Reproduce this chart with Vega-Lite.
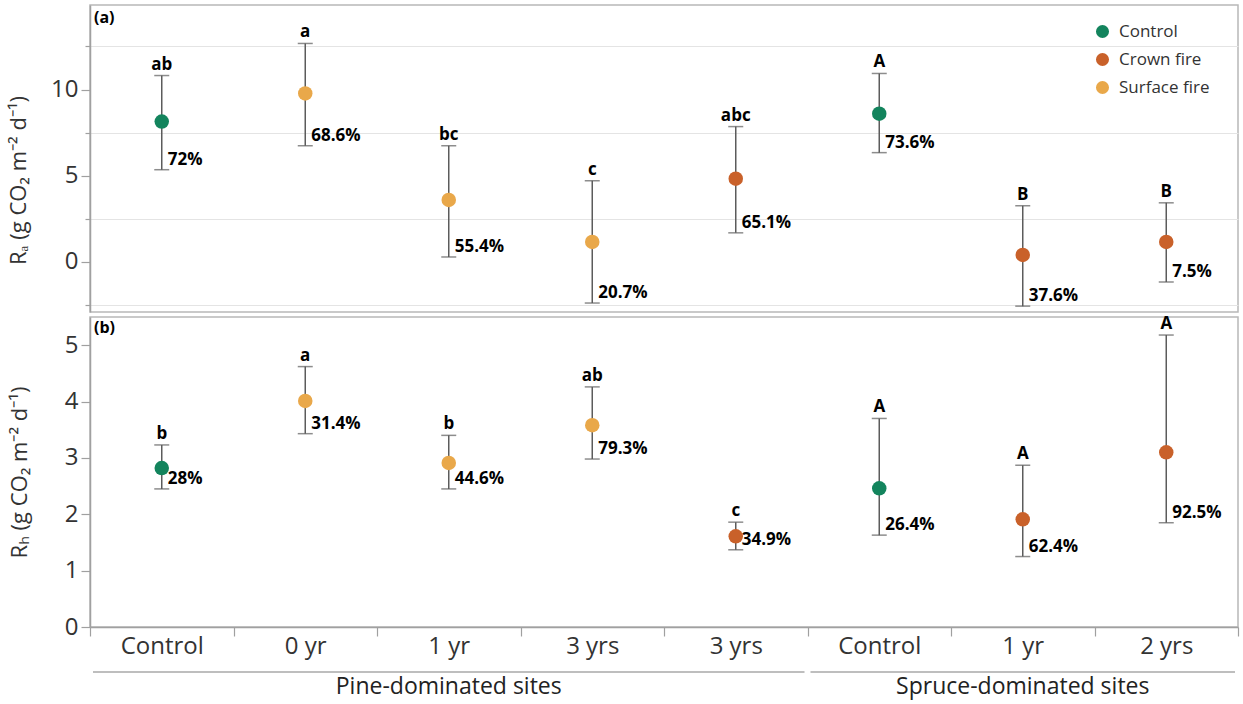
{
  "$schema": "https://vega.github.io/schema/vega-lite/v6.json",
  "padding": {"left": 6, "top": 4, "right": 2, "bottom": 6},
  "background": "white",
  "config": {
    "font": "Open Sans",
    "view": {"stroke": "#b8b8b8", "strokeWidth": 1.5},
    "axis": {"labelFont": "Open Sans", "titleFont": "Open Sans", "labelColor": "#333333", "titleColor": "#333333", "domainColor": "#a0a0a0", "tickColor": "#a0a0a0", "domainWidth": 1.5, "tickWidth": 1.2},
    "legend": {"labelFont": "Open Sans"}
  },
  "datasets": {
    "d": [
      {"cat": "Control|P", "treat": "Control", "ra": 8.14, "ra_lo": 5.35, "ra_hi": 10.81, "ra_letter": "ab", "ra_pct": "72%", "rh": 2.82, "rh_lo": 2.45, "rh_hi": 3.23, "rh_letter": "b", "rh_pct": "28%"},
      {"cat": "0 yr|P", "treat": "Surface fire", "ra": 9.77, "ra_lo": 6.74, "ra_hi": 12.67, "ra_letter": "a", "ra_pct": "68.6%", "rh": 4.01, "rh_lo": 3.43, "rh_hi": 4.62, "rh_letter": "a", "rh_pct": "31.4%"},
      {"cat": "1 yr|P", "treat": "Surface fire", "ra": 3.6, "ra_lo": 0.29, "ra_hi": 6.74, "ra_letter": "bc", "ra_pct": "55.4%", "rh": 2.91, "rh_lo": 2.45, "rh_hi": 3.4, "rh_letter": "b", "rh_pct": "44.6%"},
      {"cat": "3 yrs|P", "treat": "Surface fire", "ra": 1.16, "ra_lo": -2.38, "ra_hi": 4.71, "ra_letter": "c", "ra_pct": "20.7%", "rh": 3.58, "rh_lo": 2.98, "rh_hi": 4.26, "rh_letter": "ab", "rh_pct": "79.3%"},
      {"cat": "3 yrs|PC", "treat": "Crown fire", "ra": 4.83, "ra_lo": 1.69, "ra_hi": 7.85, "ra_letter": "abc", "ra_pct": "65.1%", "rh": 1.61, "rh_lo": 1.37, "rh_hi": 1.86, "rh_letter": "c", "rh_pct": "34.9%"},
      {"cat": "Control|S", "treat": "Control", "ra": 8.6, "ra_lo": 6.34, "ra_hi": 10.93, "ra_letter": "A", "ra_pct": "73.6%", "rh": 2.46, "rh_lo": 1.63, "rh_hi": 3.7, "rh_letter": "A", "rh_pct": "26.4%"},
      {"cat": "1 yr|S", "treat": "Crown fire", "ra": 0.41, "ra_lo": -2.56, "ra_hi": 3.26, "ra_letter": "B", "ra_pct": "37.6%", "rh": 1.91, "rh_lo": 1.25, "rh_hi": 2.87, "rh_letter": "A", "rh_pct": "62.4%"},
      {"cat": "2 yrs|S", "treat": "Crown fire", "ra": 1.16, "ra_lo": -1.16, "ra_hi": 3.43, "ra_letter": "B", "ra_pct": "7.5%", "rh": 3.1, "rh_lo": 1.85, "rh_hi": 5.18, "rh_letter": "A", "rh_pct": "92.5%"}
    ],
    "g": [
      {"group": "Pine-dominated sites", "from": 0, "to": 5},
      {"group": "Spruce-dominated sites", "from": 5, "to": 8}
    ]
  },
  "spacing": 1,
  "resolve": {"scale": {"color": "independent", "x": "independent", "y": "independent"}, "legend": {"color": "independent"}},
  "vconcat": [
    {
      "width": 1148,
      "height": 307,
      "title": {"text": "(a)", "anchor": "start", "frame": "group", "offset": -21, "dx": 4, "fontSize": 16, "fontWeight": "bold", "color": "#000000", "font": "Open Sans"},
      "data": {"name": "d"},
      "encoding": {
        "x": {"field": "cat", "type": "nominal", "scale": {"type": "band", "domain": ["Control|P", "0 yr|P", "1 yr|P", "3 yrs|P", "3 yrs|PC", "Control|S", "1 yr|S", "2 yrs|S"], "paddingInner": 0, "paddingOuter": 0}, "axis": null}
      },
      "layer": [
        {
          "mark": {"type": "rule", "color": "#5c5c5c", "strokeWidth": 1.5},
          "encoding": {
            "y": {"field": "ra_lo", "type": "quantitative", "scale": {"domain": [-2.9, 14.9], "nice": false, "zero": false},
              "axis": {"title": "Rₐ (g CO₂ m⁻² d⁻¹)", "values": [-2.5, 0, 2.5, 5, 7.5, 10, 12.5],
                "labelExpr": "datum.value % 5 == 0 ? format(datum.value, 'd') : ''",
                "grid": true,
                "gridColor": {"condition": {"test": "datum.value % 5 == 0", "value": "rgba(0,0,0,0)"}, "value": "#e4e4e4"},
                "gridWidth": 1.2,
                "tickSize": {"condition": {"test": "datum.value % 5 == 0", "value": 9}, "value": 5},
                "labelFontSize": 24, "titleFontSize": 22, "titleFontWeight": "normal", "labelPadding": 3, "titlePadding": 20, "titleY": 175}},
            "y2": {"field": "ra_hi"}
          }
        },
        {"mark": {"type": "tick", "color": "#5c5c5c", "thickness": 1.5, "size": 15}, "encoding": {"y": {"field": "ra_lo", "type": "quantitative"}}},
        {"mark": {"type": "tick", "color": "#5c5c5c", "thickness": 1.5, "size": 15}, "encoding": {"y": {"field": "ra_hi", "type": "quantitative"}}},
        {
          "mark": {"type": "circle", "size": 210, "opacity": 1},
          "encoding": {
            "y": {"field": "ra", "type": "quantitative"},
            "color": {"field": "treat", "type": "nominal", "scale": {"domain": ["Control", "Crown fire", "Surface fire"], "range": ["#13845d", "#c9612a", "#e9a84a"]},
              "legend": {"title": null, "orient": "none", "legendX": 1004, "legendY": 18, "labelFontSize": 17, "labelColor": "#333333", "symbolSize": 170, "symbolType": "circle", "rowPadding": 10, "labelOffset": 8}}
          }
        },
        {
          "mark": {"type": "text", "fontWeight": "bold", "fontSize": 17, "dy": -6, "baseline": "alphabetic", "color": "#000000"},
          "encoding": {"y": {"field": "ra_hi", "type": "quantitative"}, "text": {"field": "ra_letter"}}
        },
        {
          "mark": {"type": "text", "fontWeight": "bold", "fontSize": 17, "dy": -5, "dx": 6, "align": "left", "baseline": "alphabetic", "color": "#000000"},
          "encoding": {"y": {"field": "ra_lo", "type": "quantitative"}, "text": {"field": "ra_pct"}}
        }
      ]
    },
    {
      "width": 1148,
      "height": 310,
      "title": {"text": "(b)", "anchor": "start", "frame": "group", "offset": -21, "dx": 4, "fontSize": 16, "fontWeight": "bold", "color": "#000000", "font": "Open Sans"},
      "data": {"name": "d"},
      "encoding": {
        "x": {"field": "cat", "type": "nominal", "scale": {"type": "band", "domain": ["Control|P", "0 yr|P", "1 yr|P", "3 yrs|P", "3 yrs|PC", "Control|S", "1 yr|S", "2 yrs|S"], "paddingInner": 0, "paddingOuter": 0},
          "axis": {"title": null, "tickBand": "extent", "labelExpr": "split(datum.label, '|')[0]", "labelFontSize": 24, "labelAngle": 0, "tickSize": 9, "labelPadding": -2, "grid": false}}
      },
      "layer": [
        {
          "mark": {"type": "rule", "color": "#5c5c5c", "strokeWidth": 1.5},
          "encoding": {
            "y": {"field": "rh_lo", "type": "quantitative", "scale": {"domain": [0, 5.5], "nice": false, "zero": false},
              "axis": {"title": "Rₕ (g CO₂ m⁻² d⁻¹)", "values": [0, 0.5, 1, 1.5, 2, 2.5, 3, 3.5, 4, 4.5, 5],
                "labelExpr": "datum.value % 1 == 0 ? format(datum.value, 'd') : ''",
                "grid": true,
                "gridColor": {"condition": {"test": "datum.value % 1 == 0", "value": "rgba(0,0,0,0)"}, "value": "#e4e4e4"},
                "gridWidth": 1.2,
                "tickSize": {"condition": {"test": "datum.value % 1 == 0", "value": 9}, "value": 5},
                "labelFontSize": 24, "titleFontSize": 22, "titleFontWeight": "normal", "labelPadding": 3, "titlePadding": 33}},
            "y2": {"field": "rh_hi"}
          }
        },
        {"mark": {"type": "tick", "color": "#5c5c5c", "thickness": 1.5, "size": 15}, "encoding": {"y": {"field": "rh_lo", "type": "quantitative"}}},
        {"mark": {"type": "tick", "color": "#5c5c5c", "thickness": 1.5, "size": 15}, "encoding": {"y": {"field": "rh_hi", "type": "quantitative"}}},
        {
          "mark": {"type": "circle", "size": 210, "opacity": 1},
          "encoding": {
            "y": {"field": "rh", "type": "quantitative"},
            "color": {"field": "treat", "type": "nominal", "scale": {"domain": ["Control", "Crown fire", "Surface fire"], "range": ["#13845d", "#c9612a", "#e9a84a"]}, "legend": null}
          }
        },
        {
          "mark": {"type": "text", "fontWeight": "bold", "fontSize": 17, "dy": -6, "baseline": "alphabetic", "color": "#000000"},
          "encoding": {"y": {"field": "rh_hi", "type": "quantitative"}, "text": {"field": "rh_letter"}}
        },
        {
          "mark": {"type": "text", "fontWeight": "bold", "fontSize": 17, "dy": -5, "dx": 6, "align": "left", "baseline": "alphabetic", "color": "#000000"},
          "encoding": {"y": {"field": "rh_lo", "type": "quantitative"}, "text": {"field": "rh_pct"}}
        }
      ]
    },
    {
      "width": 1148,
      "height": 6,
      "view": {"stroke": null},
      "data": {"name": "g"},
      "transform": [{"calculate": "(datum.from + datum.to) / 2", "as": "mid"}],
      "layer": [
        {
          "mark": {"type": "rule", "color": "#a8a8a8", "strokeWidth": 1.5, "yOffset": 9, "xOffset": 3, "x2Offset": -3},
          "encoding": {
            "x": {"field": "from", "type": "quantitative", "scale": {"domain": [0, 8], "nice": false, "zero": false}, "axis": null},
            "x2": {"field": "to"}
          }
        },
        {
          "mark": {"type": "rule", "color": "#a8a8a8", "strokeWidth": 1.5, "xOffset": 3, "yOffset": 6, "y2Offset": 6},
          "encoding": {"x": {"field": "from", "type": "quantitative", "axis": null}}
        },
        {
          "mark": {"type": "rule", "color": "#a8a8a8", "strokeWidth": 1.5, "xOffset": -3, "yOffset": 6, "y2Offset": 6},
          "encoding": {"x": {"field": "to", "type": "quantitative", "axis": null}}
        },
        {
          "mark": {"type": "text", "fontSize": 23, "dy": 24, "baseline": "middle", "color": "#222222"},
          "encoding": {"x": {"field": "mid", "type": "quantitative", "axis": null}, "text": {"field": "group"}}
        }
      ]
    }
  ]
}
